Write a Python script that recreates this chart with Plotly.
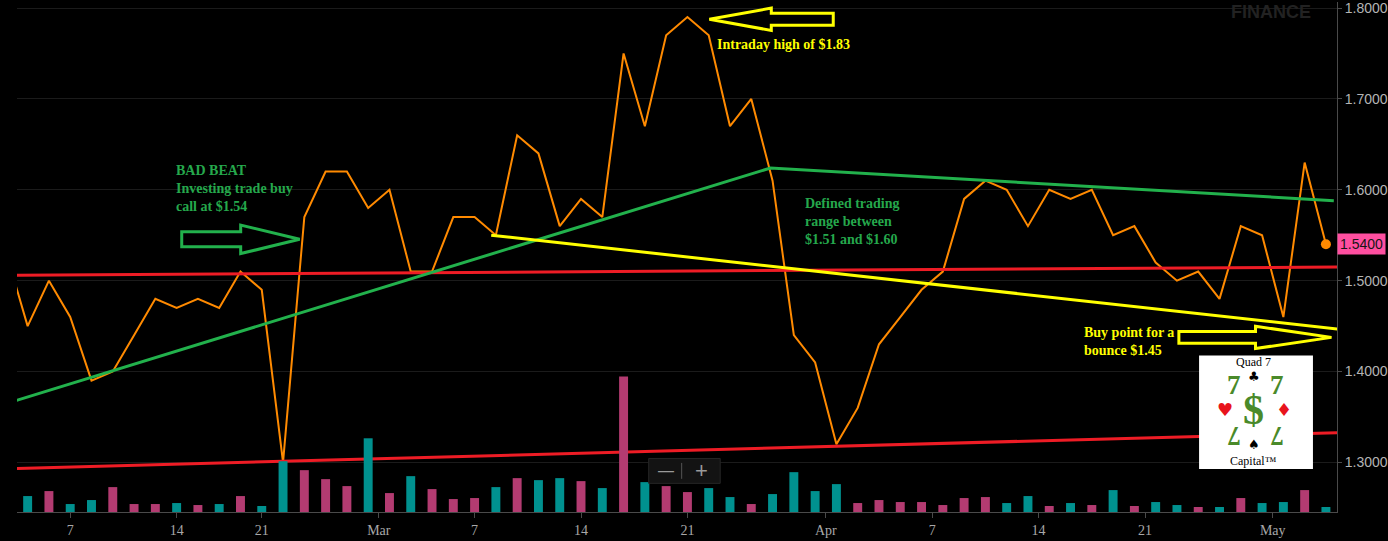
import plotly.graph_objects as go

# trading-day index (-1 is the day just off the left edge)
days = list(range(-1, 62))

close = [1.53,
         1.45, 1.50, 1.46, 1.39, 1.40, 1.44, 1.48, 1.47, 1.48, 1.47,
         1.51, 1.49, 1.30, 1.57, 1.62, 1.62, 1.58, 1.60, 1.51, 1.51,
         1.57, 1.57, 1.55, 1.66, 1.64, 1.56, 1.59, 1.57, 1.75, 1.67,
         1.77, 1.79, 1.77, 1.67, 1.70, 1.61, 1.44, 1.41, 1.32, 1.36,
         1.43, 1.46, 1.49, 1.51, 1.59, 1.61, 1.60, 1.56, 1.60, 1.59,
         1.60, 1.55, 1.56, 1.52, 1.50, 1.51, 1.48, 1.56, 1.55, 1.46,
         1.63, 1.54]

# volume in millions
volume = [1.2,
          1.6, 2.1, 0.8, 1.2, 2.5, 0.8, 0.8, 0.9, 0.7, 0.8,
          1.6, 0.6, 5.1, 4.2, 3.3, 2.6, 7.4, 1.9, 3.6, 2.3,
          1.3, 1.4, 2.5, 3.4, 3.2, 3.4, 3.1, 2.4, 13.6, 3.0,
          2.6, 2.0, 2.4, 1.5, 0.8, 1.8, 4.0, 2.1, 2.8, 0.9,
          1.2, 1.0, 1.0, 0.7, 1.4, 1.5, 0.9, 1.6, 0.6, 0.9,
          0.7, 2.2, 0.6, 1.0, 0.7, 0.5, 0.5, 1.4, 0.9, 1.0,
          2.2, 0.5]

# u = up day, d = down day (one letter per entry of days)
direction = list("d"
                 "uduudddudu"
                 "duudddudud"
                 "dduduududu"
                 "dduuduuuud"
                 "dddddduudu"
                 "duduududuu"
                 "du")

tick_pos = [2, 7, 11, 16.5, 21, 26, 31, 37.5, 42.5, 47.5, 52.5, 58.5]
tick_text = ["7", "14", "21", "Mar", "7", "14", "21", "Apr", "7", "14", "21", "May"]
price_ticks = [1.3, 1.4, 1.5, 1.6, 1.7, 1.8]

# hand drawn trend lines (trading-day index, price)
red_upper_x, red_upper_y = [-0.97, 61.94], [1.506, 1.515]
red_lower_x, red_lower_y = [-0.97, 61.94], [1.293, 1.333]
green_x, green_y = [-0.83, 34.9, 61.37], [1.366, 1.624, 1.588]
yellow_x, yellow_y = [21.78, 61.85], [1.550, 1.446]

# hollow arrows: tip position + pointing direction
arrow_x = [12.78, 32.03, 61.26]
arrow_y = [1.5455, 1.7876, 1.4376]
arrow_dir = [1, -1, 1]

X_RANGE = [-0.5, 61.52]
Y_RANGE = [1.2455, 1.8066]
W, H = 1388, 541
M = dict(l=17, r=50, t=0, b=29)
ux = (X_RANGE[1] - X_RANGE[0]) / (W - M["l"] - M["r"])
uy = (Y_RANGE[1] - Y_RANGE[0]) / (H - M["t"] - M["b"])

ORANGE = "#ff8a00"
RED = "#ee1c25"
GREEN = "#22b14c"
YELLOW = "#ffff00"
TEAL = "#00918f"
MAGENTA = "#b33b71"
TXT_GREEN = "#25a84c"
LOGO_GREEN = "#4a8a2a"
SERIF = "Liberation Serif"


def arrow_path(tx, ty, d, length, head, shaft_h, head_h):
	pts = [(-d * length, -shaft_h), (-d * head, -shaft_h), (-d * head, -head_h), (0, 0),
		   (-d * head, head_h), (-d * head, shaft_h), (-d * length, shaft_h)]
	segs = []
	for dx, dy in pts:
		segs.append(f"{tx + dx * ux:.4f},{ty + dy * uy:.5f}")
	return "M " + " L ".join(segs) + " Z"


fig = go.Figure()

fig.add_trace(go.Bar(
	x=days, y=volume, yaxis="y2", width=0.42,
	marker=dict(color=[TEAL if d == "u" else MAGENTA for d in direction], line_width=0),
	hoverinfo="skip"))

fig.add_trace(go.Scatter(x=days, y=close, mode="lines", line=dict(color=ORANGE, width=2), hoverinfo="skip"))

for lx, ly, col in [(red_upper_x, red_upper_y, RED), (red_lower_x, red_lower_y, RED),
					(green_x, green_y, GREEN), (yellow_x, yellow_y, YELLOW)]:
	fig.add_trace(go.Scatter(x=lx, y=ly, mode="lines", line=dict(color=col, width=3), hoverinfo="skip"))

fig.add_trace(go.Scatter(x=[days[-1]], y=[close[-1]], mode="markers",
						 marker=dict(color=ORANGE, size=10), hoverinfo="skip"))

shapes = []
arrow_sizes = [(118, 59, 7.5, 14.3), (124, 62, 6, 11.2), (152.7, 76, 5.85, 11.2)]
arrow_cols = [GREEN, YELLOW, YELLOW]
for tx, ty, d, sz, col in zip(arrow_x, arrow_y, arrow_dir, arrow_sizes, arrow_cols):
	shapes.append(dict(type="path", path=arrow_path(tx, ty, d, *sz), xref="x", yref="y",
					   line=dict(color=col, width=3), fillcolor="rgba(0,0,0,0)", layer="above"))

# zoom control box
shapes.append(dict(type="rect", xref="x", yref="y", x0=29.18, x1=32.54, y0=1.2770, y1=1.3044,
				   fillcolor="#131313", line=dict(color="#262626", width=1), layer="above"))
shapes.append(dict(type="line", xref="x", yref="y", x0=30.73, x1=30.73, y0=1.2820, y1=1.2995,
				   line=dict(color="#555555", width=1), layer="above"))
# logo card
shapes.append(dict(type="rect", xref="x", yref="y", x0=55.04, x1=60.39, y0=1.2927, y1=1.4176,
				   fillcolor="white", line=dict(width=0), layer="above"))
fig.update_layout(shapes=shapes)

ann = []
ann.append(dict(x=6.87, y=1.6009, xanchor="left", yanchor="middle", align="left",
				text="BAD BEAT<br>Investing trade buy<br>call at $1.54",
				font=dict(family=SERIF, size=14, color=TXT_GREEN, weight="bold")))
ann.append(dict(x=32.3, y=1.7598, xanchor="left", yanchor="middle", align="left",
				text="Intraday high of $1.83",
				font=dict(family=SERIF, size=14, color=YELLOW, weight="bold")))
ann.append(dict(x=36.45, y=1.5655, xanchor="left", yanchor="middle", align="left",
				text="Defined trading<br>range between<br>$1.51 and $1.60",
				font=dict(family=SERIF, size=14, color=TXT_GREEN, weight="bold")))
ann.append(dict(x=49.53, y=1.4329, xanchor="left", yanchor="middle", align="left",
				text="Buy point for a<br>bounce $1.45",
				font=dict(family=SERIF, size=14, color=YELLOW, weight="bold")))
# zoom glyphs
ann.append(dict(x=30.01, y=1.2907, text="\u2014", font=dict(family="Liberation Sans", size=16, color="#9a9a9a")))
ann.append(dict(x=31.66, y=1.2907, text="+", font=dict(family="Liberation Sans", size=22, color="#9a9a9a")))
# logo contents
ann.append(dict(x=57.62, y=1.4102, text="Quad 7", font=dict(family=SERIF, size=12, color="black")))
ann.append(dict(x=57.62, y=1.3950, text="\u2663", font=dict(family="DejaVu Sans", size=13, color="black")))
ann.append(dict(x=56.68, y=1.3847, text="7", font=dict(family=SERIF, size=27, color=LOGO_GREEN, weight="bold")))
ann.append(dict(x=58.70, y=1.3847, text="7", font=dict(family=SERIF, size=27, color=LOGO_GREEN, weight="bold")))
ann.append(dict(x=56.26, y=1.3581, text="\u2665", font=dict(family="DejaVu Sans", size=18, color="#e8141c")))
ann.append(dict(x=59.04, y=1.3581, text="\u2666", font=dict(family="DejaVu Sans", size=18, color="#e8141c")))
ann.append(dict(x=57.62, y=1.3573, text="$", font=dict(family=SERIF, size=42, color=LOGO_GREEN, weight="bold")))
ann.append(dict(x=56.68, y=1.3299, text="7", textangle=180, font=dict(family=SERIF, size=27, color=LOGO_GREEN, weight="bold")))
ann.append(dict(x=58.70, y=1.3299, text="7", textangle=180, font=dict(family=SERIF, size=27, color=LOGO_GREEN, weight="bold")))
ann.append(dict(x=57.62, y=1.3195, text="\u2660", font=dict(family="DejaVu Sans", size=13, color="black")))
ann.append(dict(x=57.62, y=1.3018, text="Capital\u2122", font=dict(family=SERIF, size=12, color="black")))
for a in ann:
	a.update(xref="x", yref="y", showarrow=False)

# watermark and last price tag
ann.append(dict(xref="paper", yref="paper", x=0.9497, y=0.9805, xanchor="center", yanchor="middle",
				showarrow=False, text="FINANCE",
				font=dict(family="Liberation Sans", size=18, color="#222222", weight="bold")))
ann.append(dict(xref="paper", yref="y", x=1, y=close[-1], xanchor="left", showarrow=False,
				text=f"{close[-1]:.4f}", bgcolor="#ff4fa0", borderpad=2,
				font=dict(family="Liberation Sans", size=14, color="#151515")))
fig.update_layout(annotations=ann)

fig.update_layout(
	width=W, height=H, margin=M,
	paper_bgcolor="black", plot_bgcolor="black",
	showlegend=False, hovermode=False,
	xaxis=dict(range=X_RANGE, tickvals=tick_pos, ticktext=tick_text, showgrid=False, zeroline=False,
			   showline=True, linecolor="#4a4a4a", linewidth=1, ticks="outside", ticklen=5,
			   tickcolor="#4a4a4a", tickfont=dict(family=SERIF, size=14, color="#a8a8a8")),
	yaxis=dict(range=Y_RANGE, side="right", tickvals=price_ticks, tickformat=".4f",
			   ticklabeloverflow="allow",
			   showgrid=True, gridcolor="#1b1b1b", gridwidth=1, zeroline=False,
			   showline=True, linecolor="#4a4a4a", linewidth=1, ticks="outside", ticklen=4,
			   tickcolor="#4a4a4a", tickfont=dict(family="Liberation Sans", size=14, color="#b4b4b4")),
	yaxis2=dict(range=[0, 51.2], overlaying="y", visible=False),
)

# page has a default 8px body margin; drop it so the figure fills the window
fig.write_html("out.html", config={"displayModeBar": False},
			   post_script="document.body.style.margin='0';document.body.style.background='black';")
